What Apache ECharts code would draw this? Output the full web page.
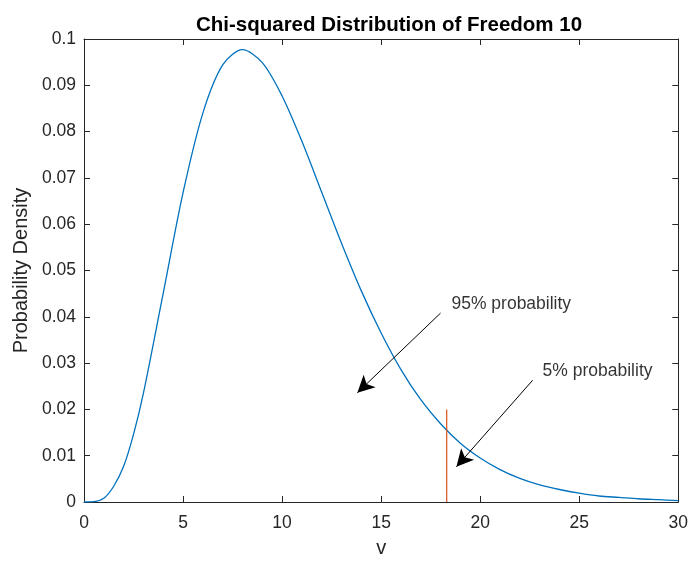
<!DOCTYPE html>
<html>
<head>
<meta charset="utf-8">
<script src="https://cdn.jsdelivr.net/npm/echarts@6/dist/echarts.min.js"></script>
<style>
  html, body { margin: 0; padding: 0; background: #fff; }
  #chart { width: 691px; height: 563px; }
</style>
</head>
<body>
<div id="chart"></div>
<script>
// values
const vValues = [0, 0.5, 1, 1.5, 2, 2.5, 3, 4, 5, 6, 7, 8, 9, 10, 11, 12, 13, 14, 15, 16, 17, 18, 19, 20,
  21, 22, 23, 24, 25, 26, 27, 28, 29, 30]
const densityValues = [0, 0.00006, 0.0008, 0.0034, 0.0077, 0.0146, 0.0235, 0.0451, 0.0668, 0.084, 0.0944, 0.0977, 0.0949, 0.0877,
  0.0779, 0.0669, 0.0559, 0.0456, 0.0365, 0.0286, 0.0221, 0.0169, 0.0127, 0.0095,
  0.007, 0.0051, 0.0037, 0.0027, 0.0019, 0.0013, 0.001, 0.0007, 0.0005, 0.0003]

const cutoffX = [18.31, 18.31]
const cutoffY = [0, 0.02]

const xTicks = [0, 5, 10, 15, 20, 25, 30]
const yTicks = [0, 0.01, 0.02, 0.03, 0.04, 0.05, 0.06, 0.07, 0.08, 0.09, 0.1]

// annotation arrows: tail -> head, in data units
const arrowTails = [[18.0, 0.0408], [22.65, 0.0263]]
const arrowHeads = [[13.8, 0.0236], [18.8, 0.0076]]
const noteTexts = ['95% probability', '5% probability']
const notePos = [[18.55, 0.0428], [23.15, 0.0283]]

const font = 'Liberation Sans, Arial, sans-serif'
const ink = '#262626'

const chart = echarts.init(document.getElementById('chart'))

const axisCommon = {
  type: 'value',
  axisLine: { show: true, onZero: false, lineStyle: { color: ink, width: 1 } },
  axisTick: { show: true, inside: true, length: 6, lineStyle: { color: ink } },
  splitLine: { show: false }
}

chart.setOption({
  animation: false,
  backgroundColor: '#fff',
  title: {
    text: 'Chi-squared Distribution of Freedom 10',
    left: 384,
    top: 10,
    textAlign: 'center',
    textStyle: { fontFamily: font, fontSize: 20.5, fontWeight: 'bold', color: '#000' }
  },
  grid: { left: 84, right: 9, top: 39, bottom: 54 },
  xAxis: [
    {
      ...axisCommon,
      position: 'bottom',
      min: 0, max: 30, interval: 5,
      name: 'v',
      nameLocation: 'middle',
      nameGap: 36,
      nameTextStyle: { fontFamily: font, fontSize: 20, color: ink },
      axisLabel: {
        margin: 12, fontFamily: font, fontSize: 17.5, color: ink,
        formatter: v => xTicks.includes(v) ? String(v) : ''
      }
    },
    { ...axisCommon, position: 'top', min: 0, max: 30, interval: 5, axisLabel: { show: false } }
  ],
  yAxis: [
    {
      ...axisCommon,
      position: 'left',
      min: 0, max: 0.1, interval: 0.01,
      name: 'Probability Density',
      nameLocation: 'middle',
      nameGap: 45,
      nameTextStyle: { fontFamily: font, fontSize: 20, color: ink },
      axisLabel: {
        margin: 8, fontFamily: font, fontSize: 17.5, color: ink,
        formatter: v => {
          const t = yTicks.find(k => Math.abs(k - v) < 1e-9)
          return t === undefined ? '' : String(+t.toFixed(2))
        }
      }
    },
    { ...axisCommon, position: 'right', min: 0, max: 0.1, interval: 0.01, axisLabel: { show: false } }
  ],
  series: [
    {
      type: 'line',
      data: vValues.map((v, i) => [v, densityValues[i]]),
      smooth: 0.3,
      showSymbol: false,
      lineStyle: { color: '#0072BD', width: 1.3 },
      markLine: {
        silent: true,
        animation: false,
        lineStyle: { color: '#000', width: 1, type: 'solid' },
        label: { show: false },
        data: arrowTails.map((t, i) => [
          { coord: t, symbol: 'none' },
          { coord: arrowHeads[i], symbol: 'arrow', symbolSize: [13, 17] }
        ])
      }
    },
    {
      type: 'line',
      data: cutoffX.map((x, i) => [x, cutoffY[i]]),
      showSymbol: false,
      lineStyle: { color: '#D95319', width: 1.2 }
    },
    {
      type: 'scatter',
      symbolSize: 0,
      silent: true,
      data: notePos.map((p, i) => ({ value: p, name: noteTexts[i] })),
      label: {
        show: true,
        position: 'right',
        distance: 0,
        formatter: p => p.name,
        fontFamily: font,
        fontSize: 17.5,
        color: '#000'
      }
    }
  ]
})
</script>
</body>
</html>
